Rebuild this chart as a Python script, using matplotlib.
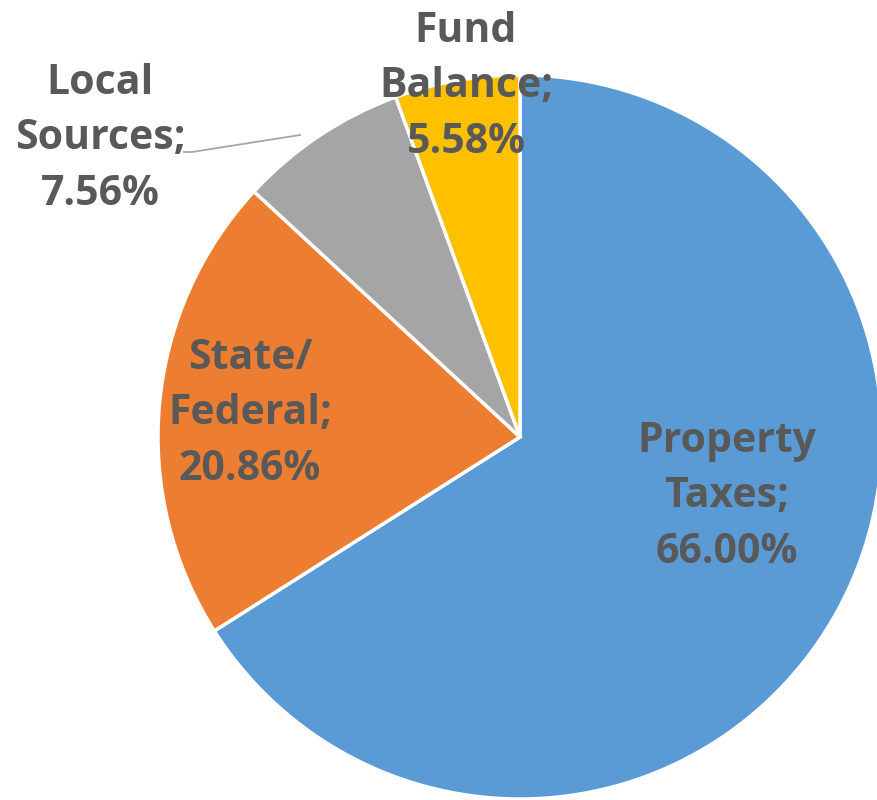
import matplotlib.pyplot as plt

labels = ["Property\nTaxes;\n66.00%", "State/\nFederal;\n20.86%",
          "Local\nSources;\n7.56%", "Fund\nBalance;\n5.58%"]
shares = [66.00, 20.86, 7.56, 5.58]
colors = ["#5B9BD5", "#ED7D31", "#A5A5A5", "#FFC000"]
# label centres in pixel coords (x, y from top)
label_pos = [(727, 497), (250, 414), (100, 139), (466, 87)]

W, H = 878, 800
fig = plt.figure(figsize=(W / 100, H / 100), dpi=100)
ax = fig.add_axes([0, 0, 1, 1])

ax.pie(shares, colors=colors, startangle=90, counterclock=False,
       center=(520, H - 437), radius=362, frame=True,
       wedgeprops=dict(edgecolor="white", linewidth=2.5))
ax.set_xlim(0, W)
ax.set_ylim(0, H)
ax.set_aspect("equal")
ax.axis("off")

for txt, (x, y) in zip(labels, label_pos):
    ax.text(x, H - y, txt, ha="center", va="center", fontsize=29.5,
            fontweight="bold", color="#595959", family="Open Sans",
            linespacing=1.48)

# leader line for Local Sources
ax.plot([184, 192, 300], [H - 152, H - 152, H - 135], color="#A6A6A6", lw=1.3)

fig.savefig("out.png", dpi=100)
